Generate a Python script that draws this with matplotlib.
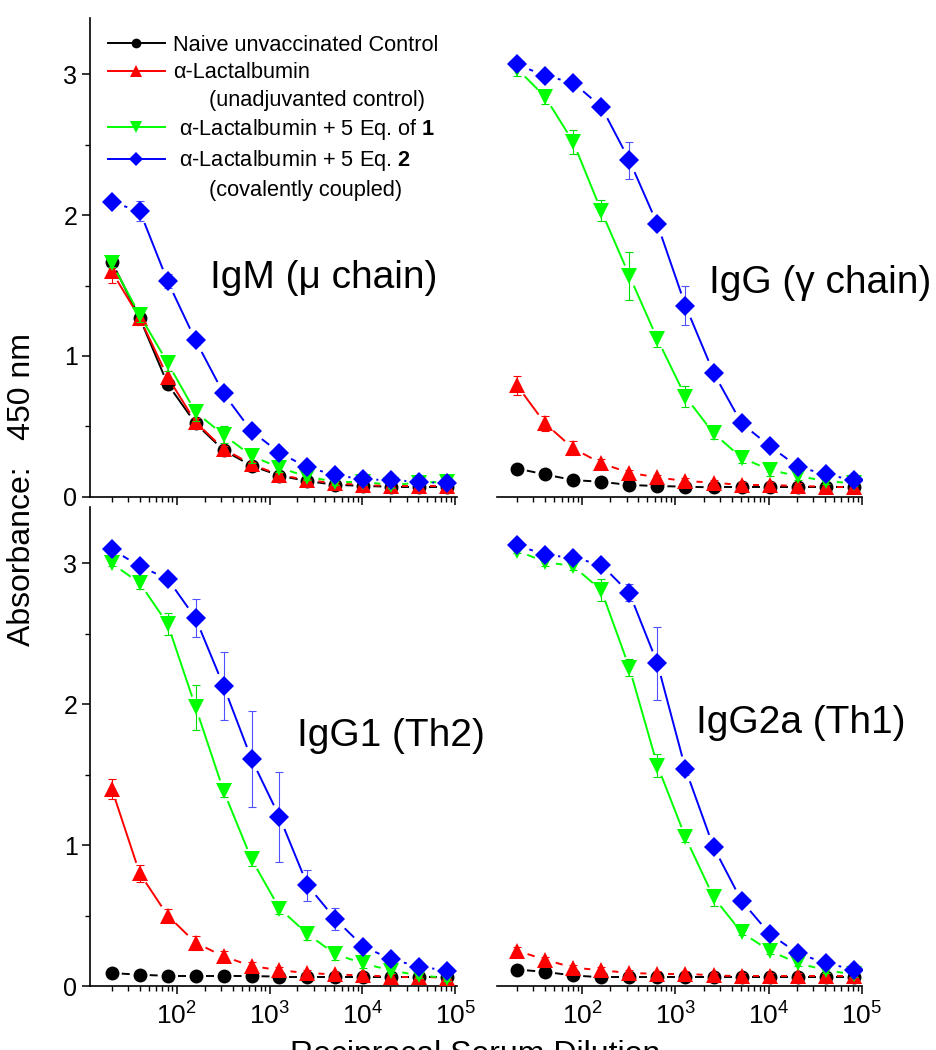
import numpy as np
import matplotlib
matplotlib.use("Agg")
import matplotlib.pyplot as plt
from matplotlib.lines import Line2D
from matplotlib.ticker import MultipleLocator, LogLocator, NullFormatter

plt.rcParams['font.family'] = ['Liberation Sans', 'DejaVu Sans']
plt.rcParams['mathtext.fontset'] = 'custom'
plt.rcParams['mathtext.rm'] = 'Liberation Sans'
plt.rcParams['mathtext.it'] = 'Liberation Sans:italic'
plt.rcParams['mathtext.bf'] = 'Liberation Sans:bold'

# ---------------- data ----------------
dilution = [20, 40, 80, 160, 320, 640, 1280, 2560, 5120, 10240, 20480, 40960, 81920]

series_names = ["Naive unvaccinated Control",
                "\u03b1-Lactalbumin",
                " \u03b1-Lactalbumin + 5 Eq. of $\\mathbf{1}$",
                " \u03b1-Lactalbumin + 5 Eq. $\\mathbf{2}$"]
panel_titles = ["IgM (\u03bc chain)", "IgG (\u03b3 chain)", "IgG1 (Th2)", "IgG2a (Th1)"]

# IgM
igm_naive = [1.67, 1.27, 0.80, 0.52, 0.33, 0.22, 0.15, 0.11, 0.085, 0.076, 0.071, 0.071, 0.071]
igm_lact = [1.60, 1.27, 0.85, 0.53, 0.34, 0.23, 0.155, 0.118, 0.095, 0.083, 0.076, 0.076, 0.076]
igm_lact1 = [1.66, 1.29, 0.95, 0.60, 0.44, 0.29, 0.206, 0.142, 0.106, 0.106, 0.083, 0.10, 0.106]
igm_lact2 = [2.09, 2.03, 1.53, 1.11, 0.733, 0.466, 0.312, 0.208, 0.154, 0.123, 0.118, 0.106, 0.095]
igm_naive_err = [0.03, 0.03, 0.03, 0.02, 0.02, 0.01, 0.01, 0.01, 0.01, 0.01, 0.01, 0.01, 0.01]
igm_lact_err = [0.08, 0.05, 0.04, 0.03, 0.02, 0.02, 0.01, 0.01, 0.01, 0.01, 0.01, 0.01, 0.01]
igm_lact1_err = [0.03, 0.05, 0.055, 0.06, 0.06, 0.05, 0.03, 0.02, 0.02, 0.02, 0.02, 0.02, 0.02]
igm_lact2_err = [0.02, 0.07, 0.05, 0.03, 0.02, 0.02, 0.02, 0.02, 0.02, 0.02, 0.02, 0.02, 0.02]

# IgG
igg_naive = [0.20, 0.158, 0.118, 0.106, 0.083, 0.076, 0.071, 0.066, 0.066, 0.066, 0.066, 0.066, 0.066]
igg_lact = [0.79, 0.52, 0.343, 0.237, 0.17, 0.137, 0.111, 0.10, 0.083, 0.083, 0.076, 0.071, 0.071]
igg_lact1 = [3.04, 2.84, 2.52, 2.03, 1.57, 1.12, 0.71, 0.45, 0.277, 0.19, 0.147, 0.111, 0.095]
igg_lact2 = [3.07, 2.99, 2.94, 2.77, 2.39, 1.935, 1.356, 0.88, 0.52, 0.36, 0.213, 0.158, 0.118]
igg_naive_err = [0.01, 0.01, 0.01, 0.01, 0.01, 0.01, 0.01, 0.01, 0.01, 0.01, 0.01, 0.01, 0.01]
igg_lact_err = [0.065, 0.05, 0.05, 0.03, 0.02, 0.02, 0.02, 0.02, 0.02, 0.02, 0.02, 0.02, 0.02]
igg_lact1_err = [0.05, 0.05, 0.085, 0.075, 0.17, 0.06, 0.075, 0.04, 0.04, 0.04, 0.03, 0.02, 0.02]
igg_lact2_err = [0.01, 0.02, 0.02, 0.02, 0.13, 0.03, 0.14, 0.03, 0.02, 0.02, 0.02, 0.02, 0.02]

# IgG1
igg1_naive = [0.092, 0.08, 0.072, 0.072, 0.072, 0.07, 0.067, 0.067, 0.067, 0.067, 0.067, 0.067, 0.067]
igg1_lact = [1.40, 0.80, 0.50, 0.307, 0.21, 0.142, 0.112, 0.092, 0.082, 0.075, 0.067, 0.067, 0.057]
igg1_lact1 = [3.0, 2.86, 2.57, 1.98, 1.385, 0.90, 0.55, 0.37, 0.225, 0.16, 0.11, 0.075, 0.057]
igg1_lact2 = [3.10, 2.98, 2.89, 2.61, 2.13, 1.61, 1.20, 0.716, 0.474, 0.28, 0.19, 0.137, 0.11]
igg1_naive_err = [0.01, 0.01, 0.01, 0.01, 0.01, 0.01, 0.01, 0.01, 0.01, 0.01, 0.01, 0.01, 0.01]
igg1_lact_err = [0.07, 0.06, 0.05, 0.05, 0.04, 0.03, 0.02, 0.02, 0.02, 0.02, 0.02, 0.02, 0.02]
igg1_lact1_err = [0.02, 0.04, 0.08, 0.16, 0.04, 0.05, 0.04, 0.04, 0.04, 0.03, 0.02, 0.02, 0.02]
igg1_lact2_err = [0.01, 0.02, 0.02, 0.135, 0.24, 0.34, 0.32, 0.11, 0.08, 0.02, 0.02, 0.02, 0.02]

# IgG2a
igg2a_naive = [0.117, 0.10, 0.075, 0.062, 0.062, 0.062, 0.062, 0.062, 0.062, 0.062, 0.062, 0.062, 0.062]
igg2a_lact = [0.25, 0.187, 0.13, 0.112, 0.092, 0.087, 0.087, 0.075, 0.07, 0.07, 0.07, 0.07, 0.07]
igg2a_lact1 = [3.09, 3.01, 2.98, 2.81, 2.26, 1.565, 1.055, 0.63, 0.38, 0.25, 0.162, 0.112, 0.082]
igg2a_lact2 = [3.13, 3.06, 3.04, 2.99, 2.79, 2.29, 1.54, 0.986, 0.604, 0.37, 0.232, 0.162, 0.117]
igg2a_naive_err = [0.01, 0.01, 0.01, 0.01, 0.01, 0.01, 0.01, 0.01, 0.01, 0.01, 0.01, 0.01, 0.01]
igg2a_lact_err = [0.03, 0.02, 0.02, 0.02, 0.02, 0.02, 0.02, 0.02, 0.02, 0.02, 0.02, 0.02, 0.02]
igg2a_lact1_err = [0.02, 0.03, 0.03, 0.08, 0.06, 0.08, 0.03, 0.06, 0.02, 0.02, 0.02, 0.02, 0.02]
igg2a_lact2_err = [0.02, 0.03, 0.03, 0.03, 0.06, 0.26, 0.04, 0.03, 0.02, 0.02, 0.03, 0.03, 0.02]

panels = [
    ([igm_naive, igm_lact, igm_lact1, igm_lact2],
     [igm_naive_err, igm_lact_err, igm_lact1_err, igm_lact2_err]),
    ([igg_naive, igg_lact, igg_lact1, igg_lact2],
     [igg_naive_err, igg_lact_err, igg_lact1_err, igg_lact2_err]),
    ([igg1_naive, igg1_lact, igg1_lact1, igg1_lact2],
     [igg1_naive_err, igg1_lact_err, igg1_lact1_err, igg1_lact2_err]),
    ([igg2a_naive, igg2a_lact, igg2a_lact1, igg2a_lact2],
     [igg2a_naive_err, igg2a_lact_err, igg2a_lact1_err, igg2a_lact2_err]),
]

# ---------------- styles ----------------
colors = ['#000000', '#ff0000', '#00ff00', '#0000ff']
ecolors = ['#000000', '#ff0000', '#00e000', '#5050ff']
markers = ['o', '^', 'v', 'D']
msizes = [10, 11.5, 11.5, 10]
gaps = [10, 11, 11, 13]   # px gap between line ends and marker centre (Origin style)

W, H = 936, 1050
fig = plt.figure(figsize=(W / 100, H / 100), dpi=100)


def px_rect(x0, y0, x1, y1):
    return [x0 / W, 1 - y1 / H, (x1 - x0) / W, (y1 - y0) / H]


rects = [px_rect(90, 18, 456.5, 496.7), px_rect(497, 18, 862, 496.7),
         px_rect(90, 507, 456.5, 986), px_rect(497, 507, 862, 986)]
xlims = [(10 ** 1.067, 10 ** 5.013), (10 ** 1.086, 10 ** 5.0)]

axes = []
for k, r in enumerate(rects):
    ax = fig.add_axes(r)
    ax.set_xscale('log')
    ax.set_xlim(*xlims[k % 2])
    ax.set_ylim(0, 3.4)
    ax.patch.set_alpha(0)
    for s in ['top', 'right']:
        ax.spines[s].set_visible(False)
    for s in ['left', 'bottom']:
        ax.spines[s].set_linewidth(1.2)
    ax.xaxis.set_major_locator(LogLocator(base=10, numticks=10))
    ax.xaxis.set_minor_locator(LogLocator(base=10, subs=np.arange(2, 10), numticks=20))
    ax.xaxis.set_minor_formatter(NullFormatter())
    ax.yaxis.set_major_locator(MultipleLocator(1))
    ax.yaxis.set_minor_locator(MultipleLocator(0.5))
    ax.tick_params(which='major', direction='out', length=6, width=1.1, labelsize=18, pad=3)
    ax.tick_params(axis='x', which='major', labelsize=19, pad=6)
    ax.tick_params(which='minor', direction='out', length=3.5, width=1.0)
    if k < 2:
        ax.tick_params(axis='x', which='both', labelbottom=False)
    if k % 2 == 1:
        ax.spines['left'].set_visible(False)
        ax.tick_params(axis='y', which='both', left=False, labelleft=False)
    axes.append(ax)


def gapped_line(ax, x, y, color, gap, lw, z):
    pts = ax.transData.transform(np.column_stack([x, y]))
    inv = ax.transData.inverted()
    for i in range(len(x) - 1):
        p0, p1 = pts[i], pts[i + 1]
        d = p1 - p0
        L = np.hypot(d[0], d[1])
        if L <= 2 * gap + 1:
            continue
        u = d / L
        seg = inv.transform(np.array([p0 + u * gap, p1 - u * gap]))
        ax.plot(seg[:, 0], seg[:, 1], color=color, lw=lw, solid_capstyle='butt', zorder=z)


for ax, (vals, errs) in zip(axes, panels):
    for j in range(4):
        z = 3 + j
        gapped_line(ax, dilution, vals[j], colors[j], gaps[j], 1.4, z)
        ax.errorbar(dilution, vals[j], yerr=errs[j], fmt='none', ecolor=ecolors[j],
                    elinewidth=0.8, capsize=3, capthick=0.8, zorder=z)
        ax.plot(dilution, vals[j], linestyle='none', marker=markers[j], ms=msizes[j],
                color=colors[j], markeredgewidth=0, zorder=z + 0.5)

# panel titles
title_pos = [(210, 288), (709, 293), (297, 746), (696, 733)]
for (tx, ty), t in zip(title_pos, panel_titles):
    fig.text(tx / W, 1 - ty / H, t, fontsize=28, ha='left', va='baseline')

# legend
handles = [Line2D([0], [0], color=colors[j], lw=1.4, marker=markers[j], ms=[7, 8, 8, 7][j],
                  markeredgewidth=0) for j in range(4)]
blank = Line2D([0], [0], linestyle='none', marker=None)
leg_handles = [handles[0], handles[1], blank, handles[2], handles[3], blank]
leg_labels = [series_names[0], series_names[1], "      (unadjuvanted control)",
              series_names[2], series_names[3], "      (covalently coupled)"]
ax0 = axes[0]
leg = ax0.legend(leg_handles, leg_labels, loc='upper left',
                 bbox_to_anchor=((108 - 90) / 366.5, 1 - (35 - 18) / 478.7),
                 frameon=False, fontsize=15.7, borderpad=0, borderaxespad=0,
                 handlelength=2.6, handletextpad=0.4, labelspacing=0.29)

# axis labels
fig.text(22 / W, 1 - 490 / H, "Absorbance:   450 nm", rotation=90, fontsize=23,
         ha='center', va='center')
fig.text(475.5 / W, 1 - 1040 / H, "Reciprocal Serum Dilution", fontsize=23,
         ha='center', va='top')

fig.savefig("out.png", dpi=100)
